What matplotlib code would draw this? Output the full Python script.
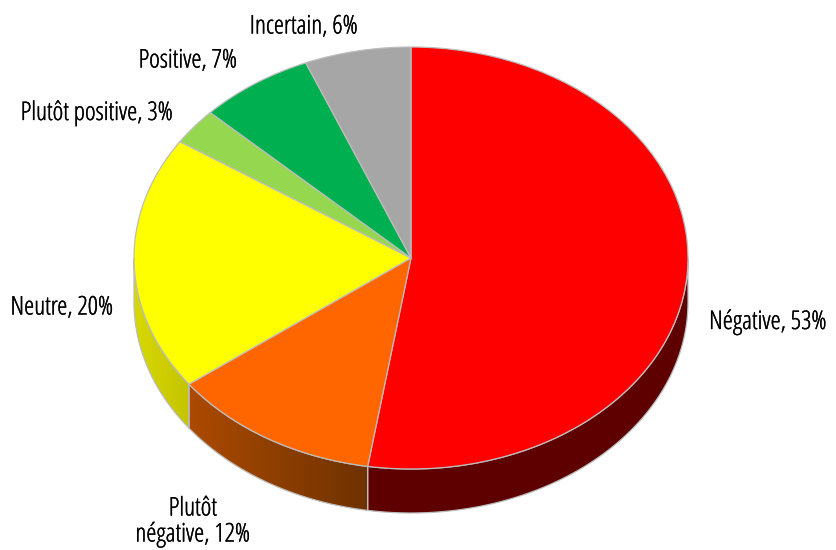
#!/usr/bin/env python3
import numpy as np
import matplotlib
matplotlib.use('Agg')
import matplotlib.pyplot as plt
import matplotlib.patheffects as pe
from matplotlib.patches import Polygon
from matplotlib.colors import LinearSegmentedColormap

# slice sizes (labels are rounded and add up to 101)
names = ['Négative', 'Plutôt négative', 'Neutre', 'Plutôt positive', 'Positive', 'Incertain']
values = [52.5, 12.3, 19.5, 2.8, 6.7, 6.2]
colors = ['#FF0000', '#FF6600', '#FFFF00', '#96D750', '#00B050', '#A6A6A6']
# side wall colours, left end then right end of each slice
wall_colors = [('#5F0000', '#5F0000'), ('#AC4A00', '#6E3200'), ('#D8D800', '#C4C400'),
               None, None, None]
labels = ['Négative, 53%', 'Plutôt\nnégative, 12%', 'Neutre, 20%',
          'Plutôt positive, 3%', 'Positive, 7%', 'Incertain, 6%']
label_pos = [(768, 322), (193, 522), (62, 308), (97, 113), (188, 61), (304, 27)]

W, H = 837, 550
CX, CY, RX, RY = 411, 258, 277, 211
DEPTH = 44 / RY
EDGE = '#BDBDBD'

fig = plt.figure(figsize=(W / 100, H / 100), dpi=100, facecolor='white')
ax = fig.add_axes([(CX - RX) / W, 1 - (CY + RY) / H, 2 * RX / W, 2 * RY / H])

wedges, _ = ax.pie(values, colors=colors, startangle=90, counterclock=False, radius=1,
                   wedgeprops={'edgecolor': EDGE, 'linewidth': 0.9, 'zorder': 5, 'clip_on': False})

# side walls, only the front half of the rim shows
for w, wc in zip(wedges, wall_colors):
    if wc is None:
        continue
    a1 = max(w.theta1 % 360 if w.theta1 % 360 != 0 else 360, 180)
    a2 = w.theta2 % 360
    if a2 <= a1:
        a2 = 360
    t = np.radians(np.linspace(a1, a2, 120))
    x = np.cos(t)
    y = np.sin(t)
    pts = np.vstack([np.column_stack([x, y]), np.column_stack([x[::-1], y[::-1] - DEPTH])])
    poly = Polygon(pts, closed=True, facecolor='none', edgecolor=EDGE, linewidth=0.9,
                   zorder=3, clip_on=False)
    ax.add_patch(poly)
    cmap = LinearSegmentedColormap.from_list('wall', wc)
    im = ax.imshow(np.linspace(0, 1, 256)[None, :], cmap=cmap, aspect='auto', zorder=2,
                   extent=[x.min(), x.max(), -1 - DEPTH, 0.1])
    im.set_clip_box(fig.bbox)
    im.set_clip_path(poly)
ax.set_aspect('auto')
ax.set_xlim(-1, 1)
ax.set_ylim(-1, 1)

for s, (px, py) in zip(labels, label_pos):
    t = fig.text(px / W, 1 - py / H, s, ha='center', va='center', fontsize=18.5,
                 family='Open Sans', stretch='condensed', color='black', linespacing=1.0)
    t.set_path_effects([pe.withStroke(linewidth=0.25, foreground='black')])

fig.savefig('out.png', dpi=100)
